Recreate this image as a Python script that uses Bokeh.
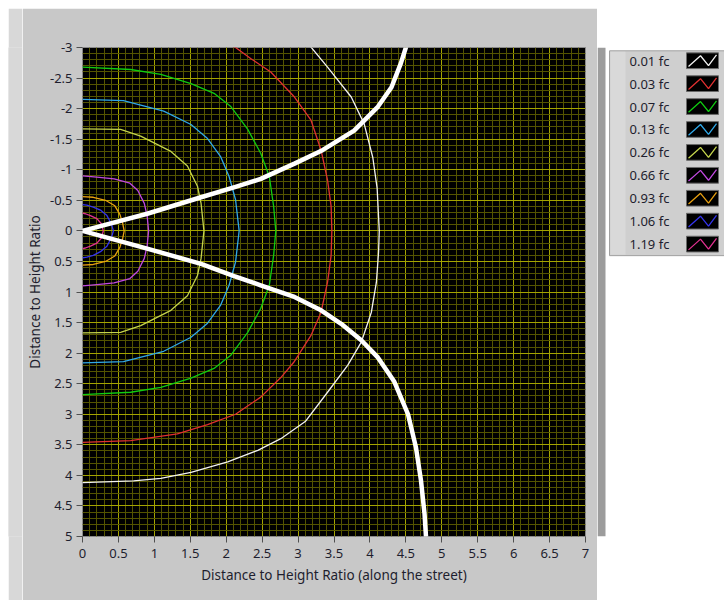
from bokeh.plotting import figure
from bokeh.models import Range1d, SingleIntervalTicker, CustomJSTickFormatter, Spacer
from bokeh.layouts import row, column
from bokeh.embed import file_html
from bokeh.resources import INLINE
from bokeh.core.properties import value

FONT = "Noto Sans"
TXT = "#1e1e2e"

levels = ["0.01 fc", "0.03 fc", "0.07 fc", "0.13 fc", "0.26 fc",
          "0.66 fc", "0.93 fc", "1.06 fc", "1.19 fc"]
colors = ["#f2f2f2", "#e03030", "#10cc10", "#30a8e8", "#c4d44c",
          "#c048e0", "#e8a010", "#3434ec", "#e03090"]

# iso-illuminance contours (x: along the street, y: across)
x_001 = [0, 0.71, 1.09, 1.51, 2.02, 2.44, 2.76, 3.10, 3.41, 3.74, 3.92, 4.04, 4.10, 4.13,
         4.12, 4.09, 4.02, 3.88, 3.69, 3.41, 3.10, 2.76, 2.44, 2.02, 1.51, 1.09, 0.71, 0]
y_001 = [-4.12, -4.09, -4.05, -3.95, -3.78, -3.59, -3.40, -3.12, -2.68, -2.19, -1.75, -1.20, -0.70, 0,
         0.35, 0.84, 1.33, 1.82, 2.20, 2.64, 3.12, 3.40, 3.59, 3.78, 3.95, 4.05, 4.09, 4.12]

x_003 = [0, 0.67, 1.32, 1.74, 2.13, 2.34, 2.62, 2.95, 3.18, 3.32, 3.41, 3.46, 3.47,
         3.46, 3.41, 3.32, 3.18, 2.94, 2.76, 2.48, 2.13, 1.74, 1.32, 0.67, 0]
y_003 = [-3.46, -3.43, -3.32, -3.17, -3.00, -2.82, -2.60, -2.19, -1.81, -1.32, -0.83, -0.40, 0,
         0.40, 0.84, 1.33, 1.71, 2.15, 2.40, 2.72, 3.00, 3.17, 3.32, 3.43, 3.46]

x_007 = [0, 0.67, 1.09, 1.51, 1.83, 2.06, 2.30, 2.48, 2.60, 2.66, 2.69,
         2.66, 2.60, 2.48, 2.30, 2.06, 1.83, 1.51, 1.09, 0.67, 0]
y_007 = [-2.68, -2.64, -2.56, -2.41, -2.25, -2.04, -1.66, -1.27, -0.89, -0.40, 0,
         0.40, 0.89, 1.27, 1.66, 2.04, 2.25, 2.41, 2.56, 2.64, 2.68]

x_013 = [0, 0.57, 1.13, 1.51, 1.74, 1.92, 2.04, 2.13, 2.18,
         2.13, 2.04, 1.92, 1.74, 1.51, 1.13, 0.57, 0]
y_013 = [-2.15, -2.13, -1.96, -1.74, -1.51, -1.22, -0.89, -0.51, 0,
         0.51, 0.89, 1.22, 1.51, 1.74, 1.97, 2.14, 2.16]

x_026 = [0, 0.53, 0.81, 1.23, 1.46, 1.60, 1.65, 1.69,
         1.65, 1.60, 1.46, 1.23, 0.81, 0.53, 0]
y_026 = [-1.67, -1.66, -1.55, -1.30, -1.06, -0.73, -0.45, 0,
         0.45, 0.73, 1.06, 1.30, 1.55, 1.66, 1.67]

x_066 = [0, 0.20, 0.44, 0.66, 0.77, 0.86, 0.90, 0.92,
         0.90, 0.86, 0.77, 0.66, 0.44, 0.20, 0]
y_066 = [-0.90, -0.88, -0.85, -0.78, -0.66, -0.45, -0.24, 0,
         0.24, 0.45, 0.66, 0.78, 0.85, 0.88, 0.90]

x_093 = [0, 0.15, 0.32, 0.45, 0.52, 0.56, 0.58,
         0.56, 0.52, 0.45, 0.32, 0.15, 0]
y_093 = [-0.56, -0.55, -0.50, -0.41, -0.27, -0.12, 0,
         0.12, 0.27, 0.41, 0.50, 0.55, 0.56]

x_106 = [0, 0.06, 0.15, 0.25, 0.34, 0.40, 0.43,
         0.40, 0.34, 0.25, 0.15, 0.06, 0]
y_106 = [-0.43, -0.42, -0.39, -0.34, -0.25, -0.12, 0,
         0.12, 0.25, 0.34, 0.40, 0.43, 0.44]

x_119 = [0, 0.04, 0.11, 0.20, 0.26, 0.29,
         0.26, 0.20, 0.11, 0.04, 0]
y_119 = [-0.29, -0.28, -0.25, -0.20, -0.12, 0,
         0.12, 0.20, 0.25, 0.28, 0.29]

contour_xs = [x_001, x_003, x_007, x_013, x_026, x_066, x_093, x_106, x_119]
contour_ys = [y_001, y_003, y_007, y_013, y_026, y_066, y_093, y_106, y_119]

# thick boundary curves
bu_x = [0, 0.90, 1.65, 2.13, 2.48, 2.95, 3.34, 3.78, 4.11, 4.30, 4.43, 4.50]
bu_y = [0, -0.28, -0.55, -0.72, -0.85, -1.10, -1.32, -1.64, -2.03, -2.35, -2.74, -3.00]
bl_x = [0, 0.90, 1.65, 2.11, 2.48, 2.95, 3.32, 3.60, 3.88, 4.11, 4.34, 4.53, 4.64, 4.71, 4.76, 4.78]
bl_y = [0, 0.29, 0.54, 0.74, 0.89, 1.08, 1.30, 1.52, 1.79, 2.07, 2.47, 3.00, 3.54, 4.08, 4.63, 5.00]

PANEL = "#c8c8c8"
H = 592
SW = 14

# left bevel strip
s = figure(width=SW, height=H, x_range=Range1d(0, 1), y_range=Range1d(0, 1),
           x_axis_type=None, y_axis_type=None, output_backend="svg",
           toolbar_location=None, min_border=0, background_fill_color="#d8d8d8",
           border_fill_color="#d8d8d8", outline_line_color=None)
s.quad(left=[0], right=[1], bottom=[0], top=[1], fill_color="#d8d8d8", line_color=None)

PW = 597 - 8 - SW
p = figure(width=PW, height=H, x_range=Range1d(0, 7), y_range=Range1d(5, -3),
           output_backend="svg", toolbar_location=None,
           min_border_left=82 - 8 - SW, min_border_right=12, min_border_top=39,
           min_border_bottom=H - 528,
           background_fill_color="black", border_fill_color=PANEL,
           outline_line_color="#8a8a8a")

fmt = CustomJSTickFormatter(code="return String(Math.round(tick*10)/10);")
for ax in (p.xaxis[0], p.yaxis[0]):
    ax.ticker = SingleIntervalTicker(interval=0.5, num_minor_ticks=5)
    ax.formatter = fmt
    ax.axis_line_color = None
    ax.major_tick_in = 0
    ax.major_tick_out = 6
    ax.minor_tick_in = 0
    ax.minor_tick_out = 0
    ax.major_tick_line_color = "#505050"
    ax.major_label_text_font = FONT
    ax.major_label_text_font_size = "13px"
    ax.major_label_text_color = TXT
    ax.axis_label_text_font = FONT
    ax.axis_label_text_font_size = "13.5px"
    ax.axis_label_text_font_style = "normal"
    ax.axis_label_text_color = TXT

p.xaxis.axis_label = "Distance to Height Ratio (along the street)"
p.yaxis.axis_label = "Distance to Height Ratio"
p.xaxis.major_label_standoff = 6
p.yaxis.major_label_standoff = 4
p.xaxis.axis_label_standoff = 5
p.yaxis.axis_label_standoff = 3

for g in (p.xgrid[0], p.ygrid[0]):
    g.grid_line_color = "#a4a400"
    g.grid_line_width = 1
    g.minor_grid_line_color = "#545400"
    g.minor_grid_line_width = 1

for cx, cy, col in zip(contour_xs, contour_ys, colors):
    p.line(cx, cy, line_color=col, line_width=1.3, line_join="round")

p.line(bu_x, bu_y, line_color="white", line_width=4.5, line_join="round", line_cap="round")
p.line(bl_x, bl_y, line_color="white", line_width=4.5, line_join="round", line_cap="round")

# legend panel
LW = 724 - 597
lf = figure(width=LW, height=H, x_range=Range1d(0, LW), y_range=Range1d(H, 0),
            x_axis_type=None, y_axis_type=None, output_backend="svg",
            toolbar_location=None, min_border=0, background_fill_color="white",
            border_fill_color="white", outline_line_color=None)
lf.quad(left=[0], right=[8], top=[0], bottom=[H], fill_color="#9c9c9c", line_color=None)
lf.quad(left=[12], right=[LW], top=[4], bottom=[252], fill_color="#cfcfcf", line_color="#a0a0a0")
lf.quad(left=[13], right=[28], top=[5], bottom=[251], fill_color="#d9d9d9", line_color=None)
n = len(levels)
yc = [16 + i * 27.75 for i in range(n)]
lf.text(x=[32] * n, y=yc, text=levels, text_font=value(FONT), text_font_size="13px",
        text_align="left", text_baseline="middle", text_color=TXT)
lf.quad(left=[89] * n, right=[121] * n, top=[v - 9.5 for v in yc], bottom=[v + 9.5 for v in yc],
        fill_color="black", line_color="#6a6a6a")
lf.multi_line(xs=[[91, 103, 111, 119] for _ in yc],
              ys=[[v + 7, v - 6, v + 6, v - 7] for v in yc],
              line_color=colors, line_width=1.3)

layout = column(Spacer(height=8), row(Spacer(width=8), s, p, lf))
open("out.html", "w").write(file_html(layout, INLINE))
